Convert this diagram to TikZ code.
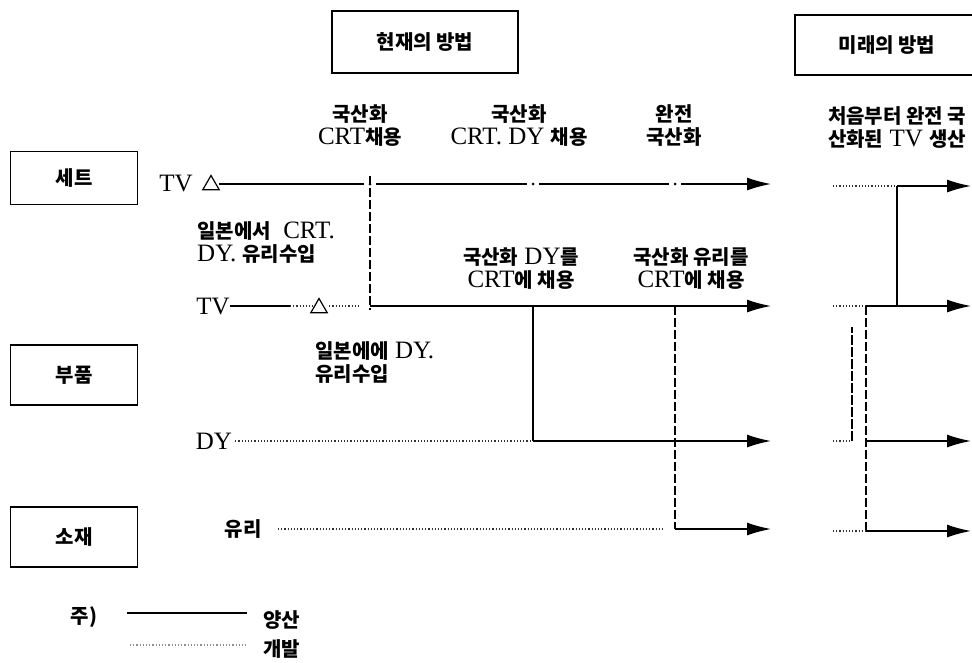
\documentclass[tikz,border=0pt]{standalone}
\usepackage{fontspec}
\setmainfont{Liberation Serif}
\newfontfamily\kr{Noto Sans CJK KR}
\usetikzlibrary{arrows.meta,shapes.geometric}
\newcommand{\hg}[1]{{\fontsize{20}{23}\kr\bfseries #1}}
\tikzset{
  lbl/.style={font=\fontsize{25}{23}\selectfont, align=center, inner sep=0pt},
  catbox/.style={draw, line width=1.4pt, inner sep=0pt, font=\fontsize{20}{23}\kr\bfseries},
  tri/.style={draw, line width=1.2pt, regular polygon, regular polygon sides=3, minimum size=19pt, inner sep=0pt},
  pdot/.style={circle, fill, inner sep=0pt, minimum size=3pt},
  mass/.style={line width=1.4pt},
  devl/.style={line width=1.1pt, dash pattern=on 1.2pt off 2pt, black!80},
  vdash/.style={line width=1.3pt, dash pattern=on 9pt off 3pt},
  arr/.style={mass, -{Latex[length=24pt,width=13pt]}}
}
\begin{document}
\begin{tikzpicture}[x=1pt,y=-1pt]
\useasboundingbox (0,0) rectangle (972,662);
% header boxes
\node[catbox, minimum width=186pt, minimum height=62pt] (now) at (425,42) {현재의 방법};
\node[catbox, minimum width=184pt, minimum height=60pt] (fut) at (887,45) {미래의 방법};
% category boxes
\node[catbox, minimum width=127pt, minimum height=53pt] (set) at (74,178) {세트};
\node[catbox, minimum width=127pt, minimum height=60pt] (part) at (74,375) {부품};
\node[catbox, minimum width=127pt, minimum height=60pt] (mat) at (74,537) {소재};
% top labels
\node[lbl] (l1) at (360,126) {\hg{국산화}\\CRT\hg{채용}};
\node[lbl] (l2) at (519,126) {\hg{국산화}\\CRT. DY \hg{채용}};
\node[lbl] (l3) at (674,126) {\hg{완전}\\\hg{국산화}};
\node[lbl] (l4) at (897,128) {\hg{처음부터 완전 국}\\\hg{산화된} TV \hg{생산}};
\node[lbl, align=left, anchor=west] (l5) at (197,243) {\hg{일본에서}\ \ CRT.\\DY. \hg{유리수입}};
\node[lbl] (l6) at (521,269) {\hg{국산화} DY\hg{를}\\CRT\hg{에 채용}};
\node[lbl] (l7) at (691,269) {\hg{국산화 유리를}\\CRT\hg{에 채용}};
\node[lbl, align=left, anchor=west] (l8) at (315,363) {\hg{일본에에} DY.\\\hg{유리수입}};
% row labels
\node[lbl] (tv1) at (176,183) {TV};
\node[tri] (t1) at (211,185) {};
\node[lbl] (tv2) at (213,306) {TV};
\node[tri] (t2) at (319,308) {};
\node[lbl] (dy) at (214,441) {DY};
\node[lbl] (yuri) at (243,529) {\hg{유리}};
% row 1 points
\node[pdot] (d1) at (370,184) {};
\node[pdot] (d2) at (533,184) {};
\node[pdot] (d3) at (675,184) {};
\coordinate (e1) at (771,184);
% row 2 points
\coordinate (c2a) at (290,306);
\coordinate (c2b) at (358,306);
\coordinate (j2) at (370,306);
\coordinate (k2) at (533,306);
\coordinate (m2) at (675,306);
\coordinate (e2) at (771,306);
% row 3
\coordinate (j3) at (533,441);
\coordinate (e3) at (771,441);
% row 4
\coordinate (s4) at (278,529);
\coordinate (c4) at (663,529);
\coordinate (j4) at (675,529);
\coordinate (e4) at (771,529);
% row 1 lines
\draw[mass] ([xshift=2pt]t1.east |- d1) -- ([xshift=-6pt]d1.center);
\draw[mass] ([xshift=6pt]d1.center) -- ([xshift=-6pt]d2.center);
\draw[mass] ([xshift=6pt]d2.center) -- ([xshift=-6pt]d3.center);
\draw[arr] ([xshift=6pt]d3.center) -- (e1);
\draw[vdash] ([yshift=8pt]d1.center) -- ([yshift=-4pt]j2);
% row 2 lines
\draw[mass] (tv2.east) -- (c2a);
\draw[devl] (c2a) -- (t2.west |- c2a);
\draw[devl] ([xshift=4pt]t2.east |- c2a) -- (c2b);
\draw[arr] (j2) -- (e2);
% row 3 lines
\draw[devl] ([xshift=3pt]dy.east) -- (j3);
\draw[mass] (k2) -- (j3);
\draw[arr] (j3) -- (e3);
% row 4 lines
\draw[devl] (s4) -- (c4);
\draw[vdash] (m2) -- (j4);
\draw[arr] (j4) -- (e4);
% future section
\coordinate (f1a) at (833,186);
\coordinate (f1j) at (897,186);
\coordinate (f1e) at (971,186);
\coordinate (f2a) at (833,306);
\coordinate (f2b) at (897,306);
\coordinate (f2j) at (866,306);
\coordinate (f2e) at (971,306);
\coordinate (f3a) at (833,441);
\coordinate (f3b) at (852,441);
\coordinate (f3t) at (852,327);
\coordinate (f3j) at (866,441);
\coordinate (f3e) at (971,441);
\coordinate (f4a) at (833,531);
\coordinate (f4j) at (866,531);
\coordinate (f4e) at (971,531);
\draw[devl] (f1a) -- (f1j);
\draw[arr] (f1j) -- (f1e);
\draw[mass] (f1j) -- (f2b);
\draw[devl] (f2a) -- (f2j);
\draw[arr] (f2j) -- (f2e);
\draw[vdash] (f2j) -- (f4j);
\draw[devl] (f3a) -- (f3b);
\draw[vdash, line width=1.1pt, dash pattern=on 10pt off 2pt] (f3b) -- (f3t);
\draw[arr] (f3j) -- (f3e);
\draw[devl] (f4a) -- (f4j);
\draw[arr] (f4j) -- (f4e);
% legend
\node[lbl] (note) at (84,617) {\hg{주)}};
\coordinate (lg1a) at (127,613);
\coordinate (lg1b) at (247,613);
\coordinate (lg2a) at (130,645);
\coordinate (lg2b) at (247,645);
\draw[mass] (lg1a) -- (lg1b);
\draw[devl, black!45] (lg2a) -- (lg2b);
\node[lbl, anchor=west] (mp) at (263,620) {\hg{양산}};
\node[lbl, anchor=west] (dv) at (263,649) {\hg{개발}};
\end{tikzpicture}
\end{document}
